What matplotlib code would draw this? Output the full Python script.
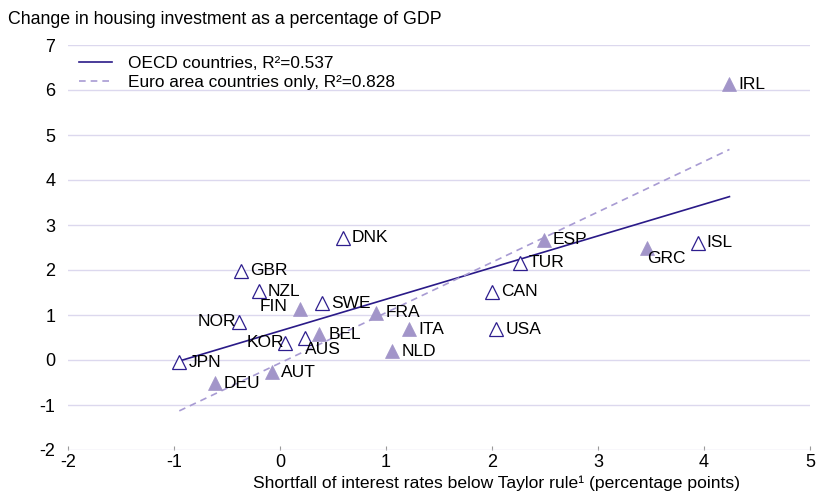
import numpy as np
import matplotlib
matplotlib.use("Agg")
import matplotlib.pyplot as plt

# ---- data ----
oecd_names = ["JPN", "NOR", "GBR", "NZL", "KOR", "AUS", "SWE", "DNK", "CAN", "USA", "TUR", "ISL"]
oecd_x = [-0.95, -0.39, -0.37, -0.20, 0.05, 0.24, 0.40, 0.59, 2.00, 2.04, 2.26, 3.94]
oecd_y = [-0.05, 0.85, 1.98, 1.53, 0.38, 0.50, 1.26, 2.72, 1.52, 0.68, 2.16, 2.61]

euro_names = ["DEU", "AUT", "FIN", "BEL", "FRA", "ITA", "NLD", "ESP", "GRC", "IRL"]
euro_x = [-0.61, -0.08, 0.19, 0.37, 0.91, 1.22, 1.06, 2.49, 3.46, 4.24]
euro_y = [-0.50, -0.27, 1.13, 0.57, 1.05, 0.68, 0.20, 2.67, 2.50, 6.13]

legend_labels = ["OECD countries, R\u00b2=0.537", "Euro area countries only, R\u00b2=0.828"]
title = "Change in housing investment as a percentage of GDP"
xlabel = "Shortfall of interest rates below Taylor rule\u00b9 (percentage points)"
xticks = [-2, -1, 0, 1, 2, 3, 4, 5]
yticks = [-2, -1, 0, 1, 2, 3, 4, 5, 6, 7]

# label placement (offset in points, horizontal alignment)
label_pos = {
    "NOR": (-2, 0, "right"), "FIN": (-9, 2, "right"), "KOR": (-1, 0, "right"),
    "AUS": (0, -9, "left"), "GRC": (0, -8, "left"), "DEU": (6, -1, "left"),
}
default_pos = (6.5, 0, "left")

# ---- style ----
c_open = "#2E1E8E"
c_fill = "#A295C9"
c_line = "#2A1A88"
c_dash = "#A89BD3"
c_grid = "#DCD8EE"

plt.rcParams["font.family"] = ["Liberation Sans", "DejaVu Sans"]

fig = plt.figure(figsize=(8.18, 4.93), dpi=100)
ax = fig.add_axes([68 / 818, 1 - 450 / 493, (810 - 68) / 818, (450 - 45) / 493])

all_x = np.array(oecd_x + euro_x)
all_y = np.array(oecd_y + euro_y)
xr = np.array([all_x.min(), all_x.max()])

p_all = np.polyfit(all_x, all_y, 1)
p_euro = np.polyfit(euro_x, euro_y, 1)
ax.plot(xr, np.polyval(p_all, xr), color=c_line, lw=1.2, label=legend_labels[0], zorder=3)
ax.plot(xr, np.polyval(p_euro, xr), color=c_dash, lw=1.2, ls=(0, (4, 3)), label=legend_labels[1], zorder=3)

ax.plot(oecd_x, oecd_y, ls="none", marker="^", ms=9.5, mfc="white", mec=c_open, mew=0.9, zorder=4)
ax.plot(euro_x, euro_y, ls="none", marker="^", ms=9.5, mfc=c_fill, mec=c_fill, mew=0.5, zorder=4)

for names, xs, ys in [(oecd_names, oecd_x, oecd_y), (euro_names, euro_x, euro_y)]:
    for n, x, y in zip(names, xs, ys):
        dx, dy, ha = label_pos.get(n, default_pos)
        ax.annotate(n, (x, y), xytext=(dx, dy), textcoords="offset points",
                    ha=ha, va="center", fontsize=12.5, color="black", zorder=5)

ax.set_xlim(-2, 5)
ax.set_ylim(-2, 7)
ax.set_xticks(xticks)
ax.set_yticks(yticks)
ax.set_xticklabels([str(t) for t in xticks], fontsize=13)
ax.set_yticklabels([str(t) for t in yticks], fontsize=13)
ax.tick_params(axis="y", length=0, pad=9)
ax.tick_params(axis="x", direction="in", length=3, color="#999999", pad=3)
ax.grid(axis="y", color=c_grid, lw=1.0)
ax.set_axisbelow(True)
for s in ax.spines.values():
    s.set_visible(False)

leg = ax.legend(loc="upper left", bbox_to_anchor=(0.0, 1.0), frameon=False, fontsize=12.4,
                handlelength=1.9, handletextpad=0.95, labelspacing=0.2, borderaxespad=0.25)

fig.text(8 / 818, 1 - 20 / 493, title, ha="left", va="center", fontsize=12.8)
fig.text(497 / 818, 1 - 483 / 493, xlabel, ha="center", va="center", fontsize=12.6)

fig.savefig("out.png", dpi=100)
